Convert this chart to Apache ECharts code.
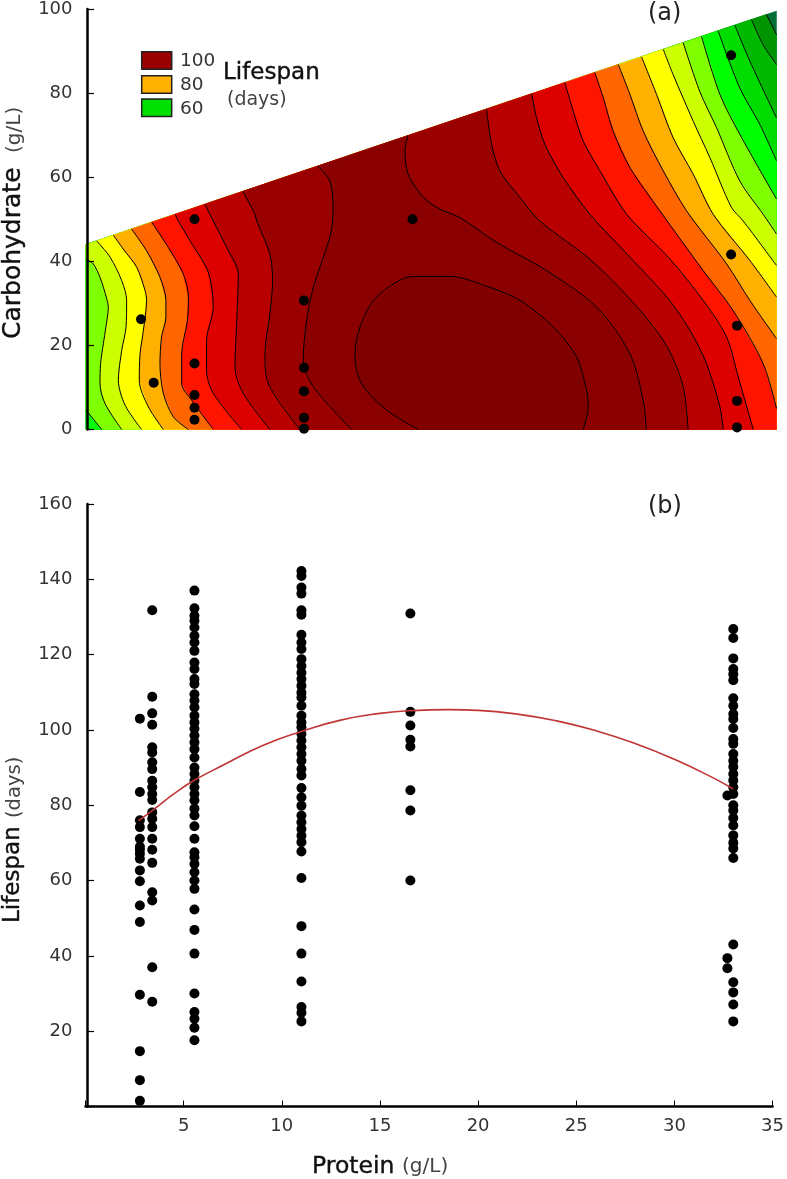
<!DOCTYPE html>
<html><head><meta charset="utf-8">
<style>html,body{margin:0;padding:0;background:#fff}#c{width:787px;height:1179px}</style>
<script src="https://cdn.jsdelivr.net/npm/echarts@6/dist/echarts.min.js"></script>
</head><body><div id="c"></div>
<script>
// ---------- contour lines of panel (a): [protein, carbohydrate] ----------
const L0=[[0.8,0],[0,4.6]];
const L1=[[1.81,0],[0.96,6.2],[0.71,10.9],[0.74,15.7],[0.88,20.4],[1.01,24.4],[1.13,29.1],[1.05,31.1],[0.71,36.2],[0.37,39.4],[0.12,40.2],[0,40.5]];
const L2=[[2.82,0],[1.98,5.8],[1.64,11.7],[1.81,18.8],[2.03,24.4],[2.06,30.7],[1.81,35.4],[1.22,41],[0.54,44.85]];
const L3=[[3.92,0],[3.16,5.4],[2.7,11.7],[2.74,18],[2.91,23.6],[3.07,30.7],[2.99,33.1],[2.57,38.6],[1.89,42.9],[1.39,46.2]];
const L4=[[5.19,0],[4.43,3],[3.92,8.6],[3.75,15.7],[3.83,22],[4.05,26.7],[4.05,30.7],[3.75,36.2],[3.07,42.5],[2.31,47.66]];
const L5=[[6.45,0],[5.35,7],[4.85,10.9],[4.85,18],[5.14,25.9],[5.19,31.5],[4.93,37],[4.17,43.3],[3.33,49.3]];
const L6=[[7.89,0],[6.45,8.6],[6.11,14.1],[6.11,21.2],[6.45,29.1],[6.2,37.4],[5.27,44.9],[4.68,49.6],[4.51,51.15]];
const L7=[[9.32,0],[7.97,8.6],[7.55,14.9],[7.64,25.9],[7.72,37],[7.13,43.3],[6.45,49.6],[6.03,53.56]];
const L8=[[10.84,0],[9.24,10.9],[9.07,18],[9.32,27.5],[9.46,35.4],[9.32,41.7],[8.65,49.6],[8.56,51.2],[7.95,56.6]];
const L9=[[13.46,0],[11.52,10.2],[11.01,16.5],[11.18,25.9],[11.52,33.8],[12.36,45.7],[12.5,49.6],[12.53,52.8],[12.36,59.1],[11.75,62.6]];
const ARCH=[[16.84,0],[15.24,4.6],[13.97,10.9],[13.63,17.7],[13.89,24.4],[14.73,31.5],[16.59,36.4],[17.43,36.4],[18.45,36.4],[20.47,33.8],[22,30.7],[23.68,24.4],[24.86,17.3],[25.37,9.4],[25.46,5.4],[25.2,0]];
const R9=[[16.31,69.85],[16.17,66.2],[16.33,60.7],[17.1,55.2],[17.94,52.4],[18.95,50.4],[20.81,44.5],[23.34,37.8],[25.88,29.1],[27.57,18],[28.24,7],[28.41,0]];
const R8=[[20.3,76.15],[20.56,67.8],[20.98,61.5],[21.99,55.2],[23,49.6],[25.71,39.8],[28.24,27.5],[29.51,19.2],[30.27,10.2],[30.52,0]];
const R7=[[22.59,79.8],[22.84,74.1],[23.26,67.8],[24.19,59.9],[25.54,51.2],[27.57,41],[29.51,31.1],[30.61,23.6],[31.45,15.7],[32.13,5.4],[32.3,0]];
const R6=[[24.27,82.5],[24.7,75.7],[25.2,68.6],[26.05,61.5],[27.4,51.2],[29.59,40.6],[31.28,30.7],[32.47,22],[33.06,12.5],[33.82,0]];
const R5=[[25.79,84.9],[26.22,78.9],[26.72,71],[27.57,62.3],[29.09,52],[31.28,37.8],[32.8,28.3],[34.32,15.7],[35,5]];
const R4=[[26.98,86.8],[27.57,79.7],[28.24,71],[29.26,61.5],[30.44,52],[32.47,39.4],[33.65,30.7],[35,21.6]];
const R3=[[28.16,88.6],[28.92,79.7],[29.76,69.4],[30.78,60.7],[31.79,51.2],[33.65,40.2],[35,31.5]];
const R2=[[29.26,90.4],[29.76,84.4],[30.78,73.3],[31.62,64.7],[32.72,52.8],[33.31,49.6],[35,39]];
const R1=[[30.27,92],[31.11,80.4],[31.96,71.8],[33.14,59.1],[34.32,51.2],[35,46.5]];
const R0=[[31.2,93.45],[32.13,79.7],[33.14,70.2],[35,54.8]];
const Rm1=[[32.04,94.8],[33.14,81.2],[34.15,72.6],[35,63.9]];
const Rm2=[[32.89,96.1],[33.65,87.6],[35,74.1]];
const Rm3=[[33.73,97.5],[34.32,91.5],[35,86.8]];
const Rm4=[[34.49,98.7],[35,93.9]];
// ---------- sampled points of panel (a) ----------
const designPoints=[[32.7,89],[5.5,50],[16.55,50],[32.7,41.6],[33,24.7],[33,6.8],[33,0.5],[11.05,30.7],[11.05,14.7],[11.05,9.1],[11.05,2.8],[11.05,0.2],[5.5,15.7],[5.5,8.2],[5.5,5.2],[5.5,2.3],[2.79,26.2],[3.43,11.1]];
// ---------- panel (b) lifespans, one list per protein level ----------
const life_p277=[103,83.5,76,74.2,71.1,69,68.2,67.1,65.8,62.7,59.8,53.4,49,29.7,14.7,7,1.5];
const life_p34=[131.8,108.8,104.4,101.4,95.4,94,91.4,89.6,86.5,84.8,83,81.4,78.1,76.4,74.2,71.1,68.2,64.7,56.9,54.7,37,27.8];
const life_p555=[137,132.3,130.3,129,127.2,125,123.2,121,117.9,116.2,113.5,112.2,109.5,107.8,106,103.8,102,100.3,98.5,96.7,94.9,92.7,90,88.3,86.5,84.8,83,81.3,79.1,77.3,74.4,71.1,67.5,66.2,64.4,62.2,60,57.8,52.3,46.9,40.6,30,25.1,23.3,20.9,17.6];
const life_p11=[142.2,140.9,137.8,136.2,131.8,130.6,125.3,123.2,121.5,118.8,117,115.2,113.5,111.7,109.9,108.6,106.4,103.8,102,100.7,98.9,97.2,95.4,93.6,91.8,89.6,87.9,84.6,82.1,79.9,77.3,75.5,73.7,71.9,70.2,67.7,60.7,47.9,40.6,33.2,26.4,24.9,22.6];
const life_p1655=[130.9,104.8,101.2,97.4,95.6,84,78.6,60];
const life_p33=[126.8,124.4,119,116.2,114.8,113.2,108.4,106.4,104.2,102.9,100.5,97.6,96.3,93.6,91.8,90.2,88.3,86.6,84.8,83,80,78.6,76.6,74.6,72,70,68.5,66,43,33,30.3,27.1,22.6];
const life_p327=[82.6,39.4,36.7];
const fitCurve=[[2.7,75.9],[3.5,79],[4.5,83],[5.5,86.5],[7,90.6],[9,95.8],[11,99.6],[13,102.6],[15,104.4],[16.5,105.1],[18.5,105.4],[20,105.2],[22,104.2],[24,102.4],[26,99.8],[28,96.4],[30,92.2],[32,87.2],[33,84.3]];
const legendLevels=['100','80','60'];

const domain=[[0,0],[0,44],[35,99.5],[35,0]];
const TL=[0,44], BR=[35,0], BL=[0,0];
const bands=[
 {pts:domain,c:'#006f35'},
 {pts:[BL,TL,...Rm4,BR],c:'#009400'},
 {pts:[BL,TL,...Rm3,BR],c:'#00b800'},
 {pts:[BL,TL,...Rm2,BR],c:'#00dc00'},
 {pts:[BL,TL,...Rm1,BR],c:'#00ff00'},
 {pts:[...L0,TL,...R0,BR],c:'#80ff00'},
 {pts:[...L1,TL,...R1,BR],c:'#ccff00'},
 {pts:[...L2,...R2,BR],c:'#ffff00'},
 {pts:[...L3,...R3,BR],c:'#ffb000'},
 {pts:[...L4,...R4,BR],c:'#ff6600'},
 {pts:[...L5,...R5,BR],c:'#ff1400'},
 {pts:[...L6,...R6],c:'#dd0000'},
 {pts:[...L7,...R7],c:'#b80000'},
 {pts:[...L8,...R8],c:'#9a0000'},
 {pts:[...L9,...R9],c:'#8a0000'},
 {pts:ARCH,c:'#800000'}
];
const lines=[L0,L1,L2,L3,L4,L5,L6,L7,L8,L9,ARCH,R9,R8,R7,R6,R5,R4,R3,R2,R1,R0,Rm1,Rm2,Rm3,Rm4];
const F='"DejaVu Sans",sans-serif';
const col=(p,a)=>a.map(v=>[p,v]);
const allLife=[...col(2.77,life_p277),...col(3.4,life_p34),...col(5.55,life_p555),...col(11,life_p11),...col(16.55,life_p1655),...col(33,life_p33),...col(32.7,life_p327)];

const yAxisBase={type:'value',z:10,
 axisLine:{show:true,onZero:false,lineStyle:{color:'#000',width:2.5}},
 axisTick:{show:true,inside:true,length:7,lineStyle:{color:'#000',width:1.2}},
 splitLine:{show:false},
 axisLabel:{color:'#333',fontFamily:F,fontSize:18,margin:14.5}};

const chart=echarts.init(document.getElementById('c'),null,{renderer:'canvas'});
const txt=(x,y,text,size,fill,heavy)=>({type:'text',x,y,z:100,style:Object.assign({text,fill:fill||'#222',font:size+'px '+F,textVerticalAlign:'middle'},heavy?{stroke:fill,lineWidth:0.4}:{})});
const vtxt=(x,y,text,size,fill,heavy)=>({type:'text',x,y,z:100,rotation:Math.PI/2,style:Object.assign({text,fill:fill||'#111',font:size+'px '+F,textAlign:'left',textVerticalAlign:'middle'},heavy?{stroke:fill,lineWidth:0.4}:{})});
const swatch=(y,fill)=>({type:'rect',z:100,shape:{x:141.7,y,width:30,height:17.6},style:{fill,stroke:'#222',lineWidth:1.5}});
chart.setOption({
 animation:false,backgroundColor:'#fff',
 grid:[{left:86,top:7.5,width:690.5,height:422},{left:85.5,top:504,width:691,height:602.5}],
 xAxis:[
  {gridIndex:0,type:'value',min:0,max:35,show:false},
  {gridIndex:1,type:'value',min:0,max:35,interval:5,z:10,
   axisLine:{show:true,onZero:false,lineStyle:{color:'#000',width:2.5}},
   axisTick:{show:true,inside:true,length:6,lineStyle:{color:'#000',width:1}},
   splitLine:{show:false},
   axisLabel:{color:'#333',fontFamily:F,fontSize:18,margin:11,formatter:v=>v===0?'':String(v)}}
 ],
 yAxis:[
  Object.assign({},yAxisBase,{gridIndex:0,min:0,max:100,interval:20,offset:-1}),
  Object.assign({},yAxisBase,{gridIndex:1,min:0,max:160,interval:20,offset:-1.5,axisLabel:Object.assign({},yAxisBase.axisLabel,{formatter:v=>v===0?'':String(v)})})
 ],
 series:[
  {type:'custom',xAxisIndex:0,yAxisIndex:0,z:1,silent:true,clip:false,data:bands.map((b,i)=>[i,0]),
   encode:{x:0,y:1},
   renderItem:(p,api)=>{const b=bands[p.dataIndex];return {type:'polygon',shape:{points:b.pts.map(q=>api.coord(q))},style:{fill:b.c,stroke:b.c,lineWidth:0.5}};}},
  ...lines.map(l=>({type:'line',xAxisIndex:0,yAxisIndex:0,z:2,data:l,showSymbol:false,silent:true,smooth:0.3,lineStyle:{color:'#000',width:1}})),
  {type:'scatter',xAxisIndex:0,yAxisIndex:0,z:3,clip:false,data:designPoints,symbol:'circle',symbolSize:10,itemStyle:{color:'#000',opacity:1}},
  {type:'scatter',xAxisIndex:1,yAxisIndex:1,z:3,clip:false,data:allLife,symbol:'circle',symbolSize:10,itemStyle:{color:'#000',opacity:1}},
  {type:'line',xAxisIndex:1,yAxisIndex:1,z:4,data:fitCurve,smooth:true,showSymbol:false,lineStyle:{color:'#c03535',width:1.6}}
 ],
 graphic:[
  swatch(51.7,'#990000'),swatch(75.7,'#ffb000'),swatch(99,'#00e000'),
  txt(180,61,legendLevels[0],18.5,'#333'),txt(180,85,legendLevels[1],18.5,'#333'),txt(180,109,legendLevels[2],18.5,'#333'),
  txt(223,73,'Lifespan',23,'#111',true),
  txt(227,100,'(days)',19,'#444'),
  txt(648,14,'(a)',24),txt(648,507,'(b)',24),
  vtxt(13,339,'Carbohydrate',25,'#111',true),vtxt(15,153,'(g/L)',20,'#444'),
  vtxt(13,923,'Lifespan',23,'#111',true),vtxt(15,818,'(days)',19.5,'#444'),
  txt(312,1167,'Protein',23.5,'#111',true),
  txt(402,1167,'(g/L)',20,'#444')
 ]
});
</script></body></html>
